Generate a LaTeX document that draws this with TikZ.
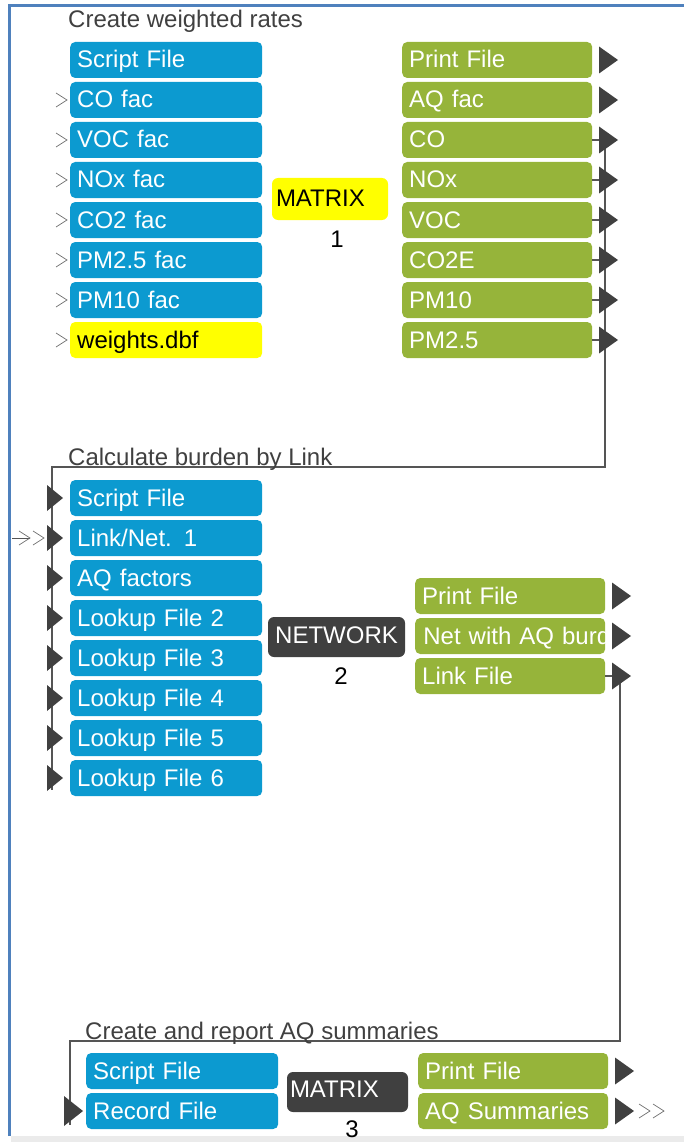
\documentclass[tikz,border=0pt]{standalone}
\usepackage{fontspec}
\setmainfont{Liberation Sans}
\definecolor{blueC}{RGB}{12,154,208}
\definecolor{greenC}{RGB}{150,180,58}
\definecolor{darkC}{RGB}{64,64,64}
\definecolor{yelC}{RGB}{255,255,0}
\definecolor{lineC}{RGB}{85,85,85}
\definecolor{frameC}{RGB}{79,129,189}
\definecolor{bandC}{RGB}{235,235,235}
\definecolor{chevC}{RGB}{110,110,110}
\begin{document}
\begin{tikzpicture}[x=1pt,y=-1pt,
  txt/.style={font=\fontsize{24}{28}\selectfont},
  box/.style={txt, rounded corners=5pt, minimum height=36pt, inner xsep=7pt, inner ysep=0pt,
    text height=19pt, text depth=3pt, anchor=west, align=left},
  bluebox/.style={box, fill=blueC, text=white, text width=178pt},
  greenbox/.style={box, fill=greenC, text=white, text width=176pt},
  yelbox/.style={box, fill=yelC, text=black, text width=178pt},
  darkbox/.style={txt, rounded corners=6pt, fill=darkC, text=white, inner ysep=0pt},
  title/.style={txt, text=darkC, anchor=base west, inner sep=0pt},
  num/.style={txt, text=black, inner sep=0pt},
  conn/.style={draw=lineC, line width=1.3pt},
  chev/.style={draw=chevC, line width=0.7pt},
  outtri/.pic={\fill[darkC] (0,-13.5) -- (19,0) -- (0,13.5) -- cycle;},
  intri/.pic={\fill[darkC] (0,-13) -- (16,0) -- (0,13) -- cycle;},
  bigintri/.pic={\fill[darkC] (0,-15) -- (19,0) -- (0,15) -- cycle;},
  chevron/.pic={\draw[chev] (0,-7) -- (11,0) -- (0,7);}
]
\useasboundingbox (0,0) rectangle (684,1142);
% frame
\fill[bandC] (11,1136) rectangle (684,1142);
\draw[frameC, line width=3pt] (9.5,1136) -- (9.5,5.5) -- (684,5.5);

% ---------------- Block 1 ----------------
\node[title] (t1) at (68,28) {Create weighted rates};
\node[bluebox] (a1) at (70,60) {Script File};
\node[bluebox] (a2) at (70,100) {CO fac};
\node[bluebox] (a3) at (70,140) {VOC fac};
\node[bluebox] (a4) at (70,180) {NOx fac};
\node[bluebox] (a5) at (70,220) {CO2 fac};
\node[bluebox] (a6) at (70,260) {PM2.5 fac};
\node[bluebox] (a7) at (70,300) {PM10 fac};
\node[yelbox] (a8) at (70,340) {weights.dbf};
\foreach \y in {100,140,...,340} {\pic at (56,\y) {chevron};}

\node[txt, rounded corners=6pt, fill=yelC, text=black, inner ysep=0pt, inner xsep=4pt,
  text width=108pt, align=left, text height=29pt, text depth=13pt] (m1) at (330,199) {MATRIX};
\node[num] (m1n) at (337,239) {1};

\node[greenbox] (g1) at (402,60) {Print File};
\node[greenbox] (g2) at (402,100) {AQ fac};
\node[greenbox] (g3) at (402,140) {CO};
\node[greenbox] (g4) at (402,180) {NOx};
\node[greenbox] (g5) at (402,220) {VOC};
\node[greenbox] (g6) at (402,260) {CO2E};
\node[greenbox] (g7) at (402,300) {PM10};
\node[greenbox] (g8) at (402,340) {PM2.5};

\coordinate (bus1top) at (605,140);
\coordinate (bus1bot) at (605,467);
\coordinate (bus2) at (52,467);
\coordinate (bus2bot) at (52,790);
\foreach \g in {g3,g4,g5,g6,g7,g8} {\draw[conn] (\g.east) -- (\g.east -| bus1top);}
\draw[conn] (bus1top) -- (bus1bot) -- (bus2) -- (bus2bot);
\foreach \y in {60,100,...,340} {\pic at (599,\y) {outtri};}

% ---------------- Block 2 ----------------
\node[title] (t2) at (68,465) {Calculate burden by Link};
\node[bluebox] (b1) at (70,498) {Script File};
\node[bluebox] (b2) at (70,538) {Link/Net. 1};
\node[bluebox] (b3) at (70,578) {AQ factors};
\node[bluebox] (b4) at (70,618) {Lookup File 2};
\node[bluebox] (b5) at (70,658) {Lookup File 3};
\node[bluebox] (b6) at (70,698) {Lookup File 4};
\node[bluebox] (b7) at (70,738) {Lookup File 5};
\node[bluebox] (b8) at (70,778) {Lookup File 6};
\foreach \y in {498,538,...,778} {\pic at (47,\y) {intri};}

\coordinate (inL) at (12,538);
\coordinate (inR) at (30,538);
\draw[conn, line width=0.9pt] (inL) -- (inR);
\pic at (19,538) {chevron};
\pic at (33,538) {chevron};

\node[darkbox, minimum width=137pt, minimum height=40pt, inner xsep=0pt,
  text height=26pt, text depth=14pt] (net) at (336.5,637) {NETWORK};
\node[num] (netn) at (341,676) {2};

\node[greenbox] (h1) at (415,596) {Print File};
\node[greenbox, path picture={\node[txt, text=white, inner sep=0pt, text width=300pt, align=left,
    text height=19pt, text depth=3pt, anchor=west]
  at ([xshift=8pt]path picture bounding box.west) {Net with AQ burden};}] (h2) at (415,636) {};
\node[greenbox] (h3) at (415,676) {Link File};

\coordinate (bus3top) at (620,676);
\coordinate (bus3bot) at (620,1041);
\coordinate (bus4) at (70,1041);
\coordinate (bus4bot) at (70,1125);
\draw[conn] (h3.east) -- (bus3top) -- (bus3bot) -- (bus4) -- (bus4bot);
\foreach \y in {596,636,676} {\pic at (612,\y) {outtri};}

% ---------------- Block 3 ----------------
\node[title] (t3) at (85,1039) {Create and report AQ summaries};
\node[bluebox] (c1) at (86,1071) {Script File};
\node[bluebox] (c2) at (86,1111) {Record File};
\pic at (64,1111) {bigintri};

\node[darkbox, minimum width=121pt, minimum height=40pt, inner xsep=3pt, text width=115pt, align=left,
  text height=25pt, text depth=15pt] (m3) at (347.5,1092) {MATRIX};
\node[num] (m3n) at (352,1129) {3};

\node[greenbox] (k1) at (418,1071) {Print File};
\node[greenbox] (k2) at (418,1111) {AQ Summaries};
\foreach \y in {1071,1111} {\pic at (615,\y) {outtri};}
\pic at (639,1111) {chevron};
\pic at (653,1111) {chevron};
\end{tikzpicture}
\end{document}
